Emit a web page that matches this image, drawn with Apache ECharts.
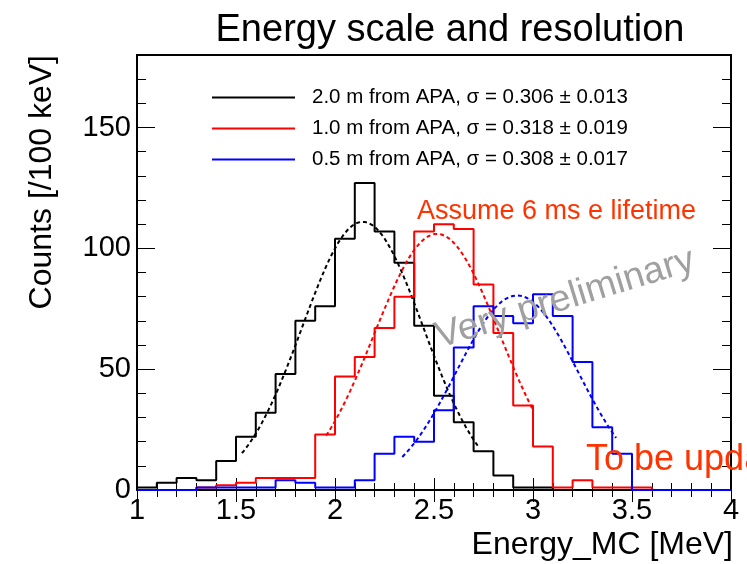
<!DOCTYPE html>
<html>
<head>
<meta charset="utf-8">
<script src="https://cdn.jsdelivr.net/npm/echarts@6/dist/echarts.min.js"></script>
<style>
  html, body { margin: 0; padding: 0; background: #ffffff; }
  #chart { width: 747px; height: 564px; }
</style>
</head>
<body>
<div id="chart"></div>
<script>
// Bin edges of the reconstructed-energy histograms (100 keV bins)
const binEdges = [1.0, 1.1, 1.2, 1.3, 1.4, 1.5, 1.6, 1.7, 1.8, 1.9,
                  2.0, 2.1, 2.2, 2.3, 2.4, 2.5, 2.6, 2.7, 2.8, 2.9,
                  3.0, 3.1, 3.2, 3.3, 3.4, 3.5, 3.6, 3.7, 3.8, 3.9, 4.0];

// Counts per bin for each drift distance
const counts2m  = [1, 3, 5, 4, 12, 22, 32, 48, 70, 76,
                   104, 127, 107, 94, 68, 39, 28, 16, 6, 1,
                   1, 0, 0, 0, 0, 0, 0, 0, 0, 0];
const counts1m  = [0, 0, 0, 1, 2, 3, 5, 5, 5, 23,
                   47, 55, 67, 80, 107, 110, 108, 85, 65, 35,
                   18, 1, 4, 1, 1, 1, 0, 0, 0, 0];
const counts05m = [0, 0, 0, 1, 1, 1, 1, 4, 3, 1,
                   1, 4, 15, 22, 20, 33, 59, 76, 72, 69,
                   81, 72, 53, 26, 15, 0, 0, 0, 0, 0];

const seriesNames = [
  '2.0 m from APA, \u03c3 = 0.306 \u00b1 0.013',
  '1.0 m from APA, \u03c3 = 0.318 \u00b1 0.019',
  '0.5 m from APA, \u03c3 = 0.308 \u00b1 0.017'
];
const seriesColors = ['#000000', '#ff0000', '#0000ff'];

// Gaussian fit results: peak height, mean [MeV], sigma [MeV], fit window [MeV]
const fitPeak  = [111, 106, 80.5];
const fitMean  = [2.14, 2.515, 2.92];
const fitSigma = [0.306, 0.318, 0.308];
const fitLow   = [1.53, 1.955, 2.34];
const fitHigh  = [2.73, 3.0, 3.42];

const xTickLabels = ['1', '1.5', '2', '2.5', '3', '3.5', '4'];
const yTickLabels = ['0', '50', '100', '150'];

const FONT = "'Liberation Sans', Arial, Helvetica, sans-serif";

// Outline of a histogram as a stepped polyline over the bin edges
function histOutline(counts) {
  const pts = [];
  for (let i = 0; i < counts.length; i++) {
    pts.push([binEdges[i], counts[i]]);
    pts.push([binEdges[i + 1], counts[i]]);
  }
  return pts;
}

// Fitted Gaussian evaluated across its fit window
function fitCurve(k) {
  const pts = [];
  const n = 120;
  for (let i = 0; i <= n; i++) {
    const x = fitLow[k] + (fitHigh[k] - fitLow[k]) * i / n;
    const d = (x - fitMean[k]) / fitSigma[k];
    pts.push([x, fitPeak[k] * Math.exp(-0.5 * d * d)]);
  }
  return pts;
}

const allCounts = [counts2m, counts1m, counts05m];
const series = [];
allCounts.forEach((c, k) => {
  series.push({
    name: seriesNames[k],
    type: 'line',
    data: histOutline(c),
    xAxisIndex: 0, yAxisIndex: 0,
    symbol: 'none',
    silent: true,
    animation: false,
    lineStyle: { color: seriesColors[k], width: 2 },
    itemStyle: { color: seriesColors[k] },
    z: 3 + k
  });
  series.push({
    name: 'fit' + k,
    type: 'line',
    data: fitCurve(k),
    xAxisIndex: 0, yAxisIndex: 0,
    symbol: 'none',
    silent: true,
    animation: false,
    lineStyle: { color: seriesColors[k], width: 2, type: [4, 3] },
    z: 3 + k
  });
});

const xMin = 1, xMax = 4, yMin = 0, yMax = 180;

function yAx(position, interval, len, labels) {
  return {
    type: 'value', position: position, min: yMin, max: yMax, interval: interval,
    axisLine: { show: false },
    splitLine: { show: false },
    axisTick: { show: true, inside: true, length: len, lineStyle: { color: '#000', width: 1 } },
    axisLabel: labels ? {
      show: true, fontFamily: FONT, fontSize: 29, color: '#000', margin: 6,
      showMaxLabel: false,
      formatter: v => (yTickLabels.indexOf(String(v)) >= 0 ? String(v) : '')
    } : { show: false }
  };
}

function xAx(position, labels) {
  return {
    type: 'value', position: position, min: xMin, max: xMax, interval: 0.5,
    axisLine: { show: false },
    splitLine: { show: false },
    axisTick: { show: true, inside: true, length: 12, lineStyle: { color: '#000', width: 1 } },
    minorTick: { show: true, splitNumber: 5, length: 7, lineStyle: { color: '#000', width: 1 } },
    axisLabel: labels ? {
      show: true, fontFamily: FONT, fontSize: 29, color: '#000', margin: 6,
      formatter: v => {
        const s = String(Math.round(v * 10) / 10);
        return xTickLabels.indexOf(s) >= 0 ? s : '';
      }
    } : { show: false }
  };
}

const chart = echarts.init(document.getElementById('chart'), null, { renderer: 'canvas' });
chart.setOption({
  animation: false,
  backgroundColor: '#ffffff',
  grid: {
    left: 137, right: 16, top: 55, bottom: 74,
    show: true, borderColor: '#000', borderWidth: 2, backgroundColor: 'transparent', z: 0
  },
  xAxis: [xAx('bottom', true), xAx('top', false)],
  yAxis: [
    yAx('left', 50, 18, true),
    yAx('left', 10, 9, false),
    yAx('right', 50, 18, false),
    yAx('right', 10, 9, false)
  ],
  legend: {
    data: seriesNames,
    orient: 'vertical',
    left: 212, top: 87, padding: 0,
    itemWidth: 83, itemHeight: 2, itemGap: 10,
    icon: 'rect',
    selectedMode: false,
    textStyle: { fontFamily: FONT, fontSize: 20.5, color: '#000', lineHeight: 20, padding: [0, 0, 0, 12] }
  },
  series: series,
  graphic: [
    { type: 'text', x: 450, y: 31, z: 20,
      style: { text: 'Energy scale and resolution', font: "38px " + FONT, fill: '#000', align: 'center', verticalAlign: 'middle' } },
    { type: 'text', x: 733, y: 545, z: 20,
      style: { text: 'Energy_MC [MeV]', font: "32px " + FONT, fill: '#000', align: 'right', verticalAlign: 'middle' } },
    { type: 'text', x: 42, y: 55, rotation: Math.PI / 2, z: 20,
      style: { text: 'Counts [/100 keV]', font: "32px " + FONT, fill: '#000', align: 'right', verticalAlign: 'middle' } },
    { type: 'text', x: 417, y: 212, z: 20,
      style: { text: 'Assume 6 ms e lifetime', font: "27px " + FONT, fill: '#ff3300', align: 'left', verticalAlign: 'middle' } },
    { type: 'text', x: 431, y: 320, rotation: 17 * Math.PI / 180, z: 20,
      style: { text: 'Very preliminary', font: "37.5px " + FONT, fill: '#a0a0a0', align: 'left', verticalAlign: 'top' } },
    { type: 'text', x: 586, y: 460, z: 20,
      style: { text: 'To be updated', font: "36px " + FONT, fill: '#ff3300', align: 'left', verticalAlign: 'middle' } }
  ]
});
</script>
</body>
</html>
